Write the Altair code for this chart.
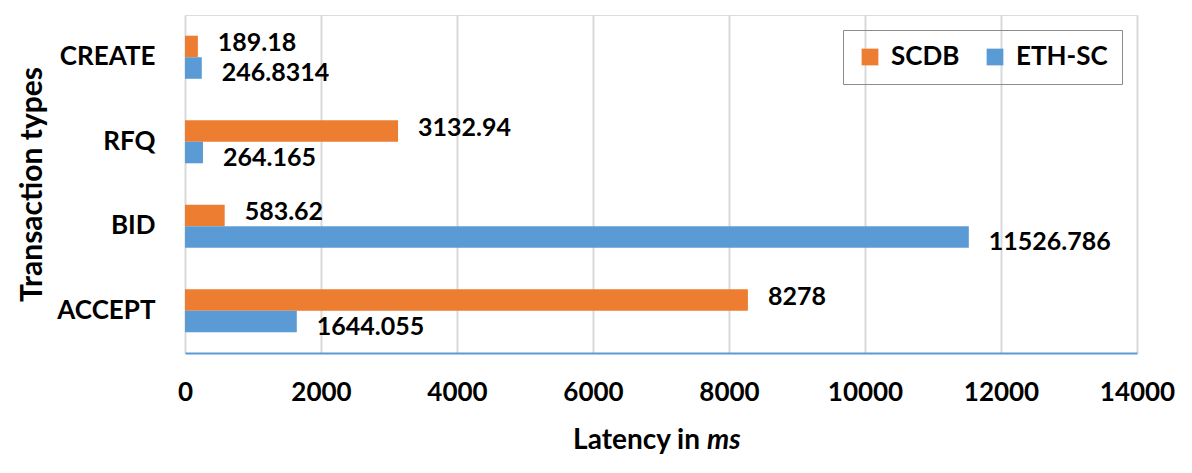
import altair as alt
import pandas as pd

categories = ["CREATE", "RFQ", "BID", "ACCEPT"]
series = ["SCDB", "ETH-SC"]
scdb = [189.18, 3132.94, 583.62, 8278]
eth_sc = [246.8314, 264.165, 11526.786, 1644.055]
x_ticks = [0, 2000, 4000, 6000, 8000, 10000, 12000, 14000]
colors = ["#ED7D31", "#5B9BD5"]

FONT = "Lato"


def fmt(v):
    s = repr(float(v))
    if s.endswith(".0"):
        s = s[:-2]
    return s


rows = []
for i, c in enumerate(categories):
    rows.append({"cat": c, "series": "SCDB", "value": scdb[i], "label": fmt(scdb[i])})
    rows.append({"cat": c, "series": "ETH-SC", "value": eth_sc[i], "label": fmt(eth_sc[i])})
df = pd.DataFrame(rows)

y_enc = alt.Y(
    "cat:N",
    sort=categories,
    scale=alt.Scale(paddingInner=0.49, paddingOuter=0.245),
    axis=alt.Axis(
        title="Transaction types",
        titleFontSize=30,
        titleFontWeight="bold",
        titleFont=FONT,
        titlePadding=9,
        labelFontSize=26,
        labelFontWeight="bold",
        labelFont=FONT,
        labelColor="black",
        titleColor="black",
        labelPadding=30,
        ticks=False,
        domain=False,
    ),
)
x_enc = alt.X(
    "value:Q",
    scale=alt.Scale(domain=[0, 14000], nice=False),
    axis=alt.Axis(
        values=x_ticks,
        format="d",
        title=None,
        labelFontSize=26,
        labelFontWeight="bold",
        labelFont=FONT,
        labelColor="black",
        labelPadding=26,
        labelFlush=False,
        ticks=False,
        domainColor="#5B9BD5",
        domainWidth=2,
        gridColor="#D9D9D9",
        gridWidth=2,
    ),
)
yoff = alt.YOffset("series:N", sort=series)

bars = alt.Chart(df).mark_bar().encode(
    x=x_enc,
    y=y_enc,
    yOffset=yoff,
    color=alt.Color(
        "series:N",
        sort=series,
        scale=alt.Scale(domain=series, range=colors),
        legend=alt.Legend(
            title=None,
            orient="none",
            legendX=658,
            legendY=15,
            direction="horizontal",
            symbolType="square",
            symbolSize=280,
            symbolStrokeWidth=0,
            labelFontSize=26,
            labelFontWeight="bold",
            labelFont=FONT,
            labelColor="black",
            strokeColor="#8C8C8C",
            padding=14,
            columnPadding=22,
            labelOffset=8,
        ),
    ),
)


def label_layer(name, dy):
    return (
        alt.Chart(df)
        .transform_filter(alt.datum.series == name)
        .mark_text(align="left", baseline="middle", dx=20, dy=dy, fontSize=25,
                   fontWeight="bold", font=FONT, color="black")
        .encode(
            x="value:Q",
            y=alt.Y("cat:N", sort=categories),
            yOffset=alt.YOffset("series:N", sort=series, scale=alt.Scale(domain=series)),
            text="label:N",
        )
    )


labels_scdb = label_layer("SCDB", -3)
labels_eth = label_layer("ETH-SC", 5)

t1 = alt.Chart(pd.DataFrame({"t": ["Latency in"]})).mark_text(
    align="right", baseline="middle", fontSize=28, fontWeight="bold", font=FONT, color="black"
).encode(x=alt.value(515), y=alt.value(426), text="t:N")
t2 = alt.Chart(pd.DataFrame({"t": ["ms"]})).mark_text(
    align="left", baseline="middle", fontSize=28, fontWeight="bold", fontStyle="italic", font=FONT, color="black"
).encode(x=alt.value(522), y=alt.value(426), text="t:N")

chart = (
    alt.layer(bars, labels_scdb, labels_eth, t1, t2)
    .properties(
        width=952,
        height=338,
        autosize=alt.AutoSizeParams(type="none"),
        padding={"left": 185, "top": 15, "right": 50, "bottom": 120},
    )
    .configure_view(stroke=None)
    .configure_legend(strokeWidth=2)
    .configure(background="white")
)

chart.save("out.html", embed_options={"renderer": "svg", "actions": False})
